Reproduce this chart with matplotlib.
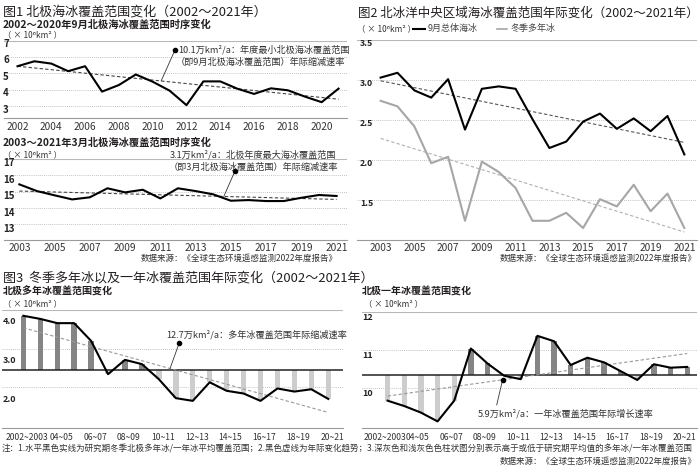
import matplotlib
matplotlib.use('Agg')
import matplotlib.pyplot as plt
import matplotlib.transforms as mtrans
from matplotlib.lines import Line2D
import numpy as np

plt.rcParams['font.family'] = ['Noto Sans CJK SC', 'DejaVu Sans']
plt.rcParams['axes.unicode_minus'] = False

W, H = 700, 472

# ---- 图1 上：9月北极海冰覆盖范围 (x10^6 km2)
sep_years = list(range(2002, 2022))
sep_extent = [5.44, 5.74, 5.60, 5.14, 5.44, 3.90, 4.30, 4.94, 4.50, 3.96,
              3.08, 4.52, 4.52, 4.08, 3.76, 4.10, 3.98, 3.60, 3.26, 4.08]
sep_trend = [5.44, 3.44]          # 趋势线 2002 / 2021 端点

# ---- 图1 下：3月北极海冰覆盖范围
mar_years = list(range(2003, 2022))
mar_extent = [15.45, 15.04, 14.78, 14.53, 14.66, 15.21, 14.96, 15.12, 14.59, 15.21,
              15.04, 14.84, 14.45, 14.49, 14.43, 14.43, 14.63, 14.80, 14.74]
mar_trend = [15.04, 14.53]

# ---- 图2 北冰洋中央区域
c_years = list(range(2003, 2022))
c_sep = [3.03, 3.09, 2.87, 2.78, 3.01, 2.38, 2.89, 2.92, 2.89, 2.51,
         2.15, 2.23, 2.48, 2.58, 2.39, 2.52, 2.36, 2.55, 2.07]
c_myi = [2.74, 2.67, 2.42, 1.96, 2.04, 1.24, 1.98, 1.85, 1.65, 1.24,
         1.24, 1.34, 1.15, 1.51, 1.42, 1.69, 1.36, 1.58, 1.15]
c_sep_trend = [2.99, 2.22]
c_myi_trend = [2.27, 1.10]

# ---- 图3 冬季多年冰 / 一年冰
winters = ['2002~2003', '03~04', '04~05', '05~06', '06~07', '07~08', '08~09',
           '09~10', '10~11', '11~12', '12~13', '13~14', '14~15', '15~16',
           '16~17', '17~18', '18~19', '19~20', '20~21']
myi = [3.85, 3.77, 3.66, 3.66, 3.20, 2.34, 2.71, 2.60, 2.21, 1.72,
       1.65, 2.13, 1.91, 1.84, 1.65, 1.97, 1.89, 1.95, 1.70]
fyi = [9.68, 9.54, 9.37, 9.14, 9.68, 11.04, 10.65, 10.33, 10.24, 11.37,
       11.23, 10.61, 10.80, 10.68, 10.45, 10.22, 10.63, 10.54, 10.56]
myi_trend = [3.54, 1.35]
fyi_trend = [9.80, 10.91]

UNIT = '（ × 10⁶km² ）'
SOURCE = '数据来源：《全球生态环境遥感监测2022年度报告》'

fig = plt.figure(figsize=(W / 100, H / 100), dpi=100)
fig.patch.set_facecolor('white')


def add_ax(left, top, right, bottom):
    return fig.add_axes([left / W, 1 - bottom / H, (right - left) / W, (bottom - top) / H])


def ftext(x, y, s, size, **kw):
    kw.setdefault('va', 'center')
    kw.setdefault('color', '#231f20')
    fig.text(x / W, 1 - y / H, s, fontsize=size, **kw)


def style(ax, xlim, ylim, grid_vals, top_val):
    ax.set_xlim(xlim)
    ax.set_ylim(ylim)
    ax.patch.set_alpha(0)
    for s in ['left', 'right', 'top']:
        ax.spines[s].set_visible(False)
    ax.spines['bottom'].set_color('#9a9a9a')
    ax.spines['bottom'].set_linewidth(0.8)
    ax.set_yticks([])
    for v in grid_vals:
        ax.axhline(v, color='#b0b0b0', lw=0.6, ls=(0, (1, 1.5)), zorder=0)
    ax.axhline(top_val, color='#b8b8b8', lw=0.8, zorder=0)
    ax.tick_params(axis='x', length=0, labelsize=7.3, colors='#333333', pad=3)


def ylabels(ax, vals, texts, x_px, dy_px, size=6.5):
    trans = mtrans.blended_transform_factory(fig.transFigure, ax.transData)
    off = mtrans.ScaledTranslation(0, -dy_px / 100, fig.dpi_scale_trans)
    for v, t in zip(vals, texts):
        ax.text(x_px / W, v, t, transform=trans + off, ha='left', va='center',
                fontsize=size, fontweight='bold', color='#222222')


def shift_xlabels(ax, dx_px):
    off = mtrans.ScaledTranslation(dx_px / 100, 0, fig.dpi_scale_trans)
    for lbl in ax.get_xticklabels():
        lbl.set_transform(lbl.get_transform() + off)


def leader(ax, dot_px, tip, dot_on_tip=False):
    # dot_px: (x, y) in figure pixels; tip: (x, y) in data
    p = (dot_px[0] / W, 1 - dot_px[1] / H)
    ax.annotate('', xy=tip, xycoords='data', xytext=p, textcoords='figure fraction',
                arrowprops=dict(arrowstyle='-', color='#333333', lw=0.6,
                                shrinkA=0, shrinkB=0))
    if dot_on_tip:
        ax.plot([tip[0]], [tip[1]], 'o', color='k', ms=3, clip_on=False, zorder=5)
    else:
        ax.plot([p[0]], [p[1]], 'o', color='k', ms=3, transform=fig.transFigure,
                clip_on=False, zorder=5)


# ================= 图1 上 =================
ax1 = add_ax(4, 40.5, 347, 118)
style(ax1, (2001.20, 2021.50), (2.30, 7.0), [6, 5, 4, 3], 7)
ax1.plot(sep_years, sep_extent, color='k', lw=1.5, zorder=3)
ax1.plot([sep_years[0], sep_years[-1]], sep_trend, color='#444444', lw=0.8,
         ls=(0, (3, 2)), zorder=2)
ax1.set_xticks(sep_years[::2])
ax1.set_xticklabels([str(y) for y in sep_years[::2]])
ylabels(ax1, [7, 6, 5, 4, 3], ['7', '6', '5', '4', '3'], 3, 3.5, 7)
tip_x = 2010.5
leader(ax1, (175, 50), (tip_x, np.interp(tip_x, [sep_years[0], sep_years[-1]], sep_trend)))
ftext(178, 50, '10.1万km²/a：年度最小北极海冰覆盖范围', 6.6, color='#333333')
ftext(176, 62, '（即9月北极海冰覆盖范围）年际缩减速率', 6.6, color='#333333')

ftext(3, 11.7, '图1 北极海冰覆盖范围变化（2002～2021年）', 9.4)
ftext(3, 24.5, '2002～2020年9月北极海冰覆盖范围时序变化', 7.4, fontweight='bold')
ftext(3, 34.5, UNIT, 6.0, color='#333333')

# ================= 图1 下 =================
ax2 = add_ax(4, 159, 347, 240)
style(ax2, (2002.13, 2021.59), (12.05, 17.0), [16, 15, 14, 13], 17)
ax2.plot(mar_years, mar_extent, color='k', lw=1.5, zorder=3)
ax2.plot([mar_years[0], mar_years[-1]], mar_trend, color='#444444', lw=0.8,
         ls=(0, (3, 2)), zorder=2)
ax2.set_xticks(mar_years[::2])
ax2.set_xticklabels([str(y) for y in mar_years[::2]])
ax2.tick_params(axis='x', pad=2)
ylabels(ax2, [17, 16, 15, 14, 13], ['17', '16', '15', '14', '13'], 3, 4.5, 7)
tip_x = 2014.6
leader(ax2, (235, 171), (tip_x, np.interp(tip_x, [mar_years[0], mar_years[-1]], mar_trend)))
ftext(336, 155, '3.1万km²/a：北极年度最大海冰覆盖范围', 6.6, ha='right', color='#333333')
ftext(338, 167, '（即3月北极海冰覆盖范围）年际缩减速率', 6.6, ha='right', color='#333333')

ftext(3, 143, '2003～2021年3月北极海冰覆盖范围时序变化', 7.4, fontweight='bold')
ftext(3, 155, UNIT, 6.0, color='#333333')
ftext(338, 258.3, SOURCE, 6.1, ha='right', color='#333333')

# ================= 图2 =================
ax3 = add_ax(357, 40, 697, 240)
style(ax3, (2001.60, 2021.75), (1.0, 3.5), [3.0, 2.5, 2.0, 1.5], 3.5)
ax3.plot(c_years, c_sep, color='k', lw=1.5, zorder=3)
ax3.plot(c_years, c_myi, color='#a6a6a6', lw=1.5, zorder=3)
ax3.plot([c_years[0], c_years[-1]], c_sep_trend, color='#555555', lw=0.8,
         ls=(0, (3, 2)), zorder=2)
ax3.plot([c_years[0], c_years[-1]], c_myi_trend, color='#b0b0b0', lw=0.8,
         ls=(0, (3, 2)), zorder=2)
ax3.set_xticks(c_years[::2])
ax3.set_xticklabels([str(y) for y in c_years[::2]])
ax3.tick_params(axis='x', pad=2)
ylabels(ax3, [3.5, 3.0, 2.5, 2.0, 1.5], ['3.5', '3.0', '2.5', '2.0', '1.5'], 360, 3.5, 6.3)

ftext(358, 12.8, '图2 北冰洋中央区域海冰覆盖范围年际变化（2002～2021年）', 9.0)
ftext(357, 28.5, UNIT, 6.0, color='#333333')
fig.add_artist(Line2D([413 / W, 425 / W], [1 - 28.5 / H] * 2, color='k', lw=1.5))
ftext(428, 28.5, '9月总体海冰', 6.5, color='#444444')
fig.add_artist(Line2D([497 / W, 507 / W], [1 - 28.5 / H] * 2, color='#a6a6a6', lw=1.2))
ftext(511, 28.5, '冬季多年冰', 6.5, color='#444444')
ftext(697, 258.3, SOURCE, 6.1, ha='right', color='#333333')

# ================= 图3 左：多年冰 =================
x = np.arange(len(winters))
ax4 = add_ax(2, 310, 343, 428.3)
style(ax4, (-1.26, 18.87), (0.94, 4.0), [3.0, 2.0], 4.0)
m4 = np.mean(myi)
d4 = np.array(myi) - m4
ax4.bar(x, d4, bottom=m4, width=0.32, color=np.where(d4 >= 0, '#858585', '#cdcdcd'), zorder=1)
ax4.axhline(m4, color='#222222', lw=1.1, zorder=2)
ax4.plot(x, myi, color='k', lw=1.5, zorder=4)
ax4.plot([x[0], x[-1]], myi_trend, color='#999999', lw=0.8, ls=(0, (3, 2)), zorder=3)
ax4.set_xticks(x[::2])
ax4.set_xticklabels(winters[::2])
ax4.tick_params(axis='x', labelsize=6.2, pad=3.5)
shift_xlabels(ax4, 4)
ylabels(ax4, [4.0, 3.0, 2.0], ['4.0', '3.0', '2.0'], 3, 12, 6.5)
tip_x = 8.66
leader(ax4, (179.3, 342.7), (tip_x, np.interp(tip_x, [x[0], x[-1]], myi_trend)))
ftext(166.7, 335, '12.7万km²/a：多年冰覆盖范围年际缩减速率', 6.6, color='#333333')

ftext(3, 278.3, '图3  冬季多年冰以及一年冰覆盖范围年际变化（2002～2021年）', 9.4)
ftext(3, 291.7, '北极多年冰覆盖范围变化', 7.2, fontweight='bold')
ftext(3, 304, UNIT, 6.0, color='#333333')

# ================= 图3 右：一年冰 =================
ax5 = add_ax(362, 311.7, 697, 428.3)
style(ax5, (-1.54, 18.59), (8.96, 12.0), [11, 10], 12)
m5 = np.mean(fyi)
d5 = np.array(fyi) - m5
ax5.bar(x, d5, bottom=m5, width=0.32, color=np.where(d5 >= 0, '#858585', '#cdcdcd'), zorder=1)
ax5.axhline(m5, color='#222222', lw=1.1, zorder=2)
ax5.plot(x, fyi, color='k', lw=1.5, zorder=4)
ax5.plot([x[0], x[-1]], fyi_trend, color='#999999', lw=0.8, ls=(0, (3, 2)), zorder=3)
ax5.set_xticks(x[::2])
ax5.set_xticklabels(winters[::2])
ax5.tick_params(axis='x', labelsize=6.2, pad=3.5)
shift_xlabels(ax5, -3)
ylabels(ax5, [12, 11, 10], ['12', '11', '10'], 362, 5.5, 6.5)
tip_x = 6.91
leader(ax5, (496.7, 405), (tip_x, np.interp(tip_x, [x[0], x[-1]], fyi_trend)), dot_on_tip=True)
ftext(478, 413.3, '5.9万km²/a：一年冰覆盖范围年际增长速率', 6.6, color='#333333')

ftext(362, 291.7, '北极一年冰覆盖范围变化', 7.2, fontweight='bold')
ftext(364, 304, UNIT, 6.0, color='#333333')

ftext(2, 449.3, '注：1.水平黑色实线为研究期冬季北极多年冰/一年冰平均覆盖范围；2.黑色虚线为年际变化趋势；'
                '3.深灰色和浅灰色色柱状图分别表示高于或低于研究期平均值的多年冰/一年冰覆盖范围',
      6.1, color='#333333')
ftext(697, 461.7, SOURCE, 6.1, ha='right', color='#333333')

fig.savefig('out.png', dpi=100, facecolor='white')
